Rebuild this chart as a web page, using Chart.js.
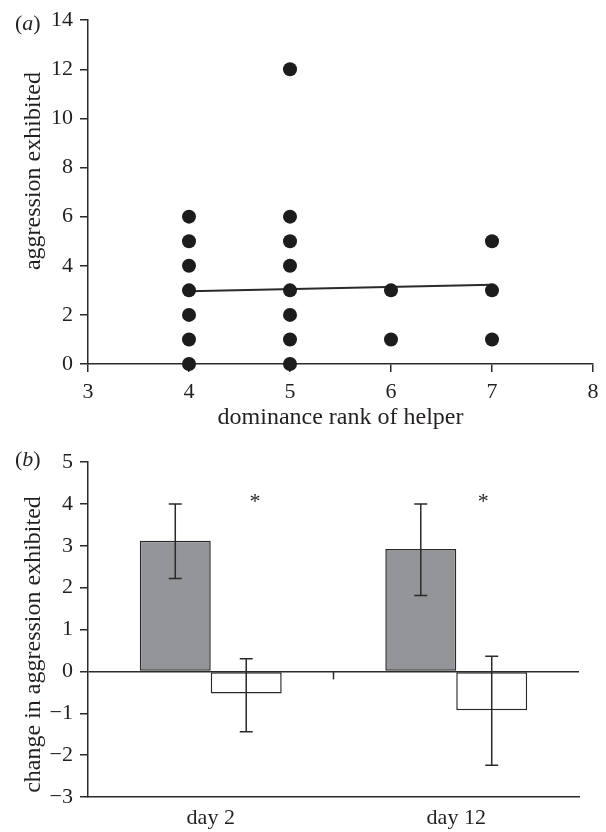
<!DOCTYPE html>
<html>
<head>
<meta charset="utf-8">
<script src="https://cdn.jsdelivr.net/npm/chart.js@4.4.1/dist/chart.umd.min.js"></script>
<style>
  body { margin: 0; background: #fff; }
  #wrap { position: relative; width: 606px; height: 832px; font-family: "Liberation Serif", "Times New Roman", serif; color: #231f20; }
  .panel-tag { position: absolute; left: 15px; font-size: 22px; line-height: 1; }
  #chartA { position: absolute; left: 0; top: 0; }
  #chartB { position: absolute; left: 0; top: 440px; }
</style>
</head>
<body>
<div id="wrap">
  <canvas id="chartA" width="606" height="440"></canvas>
  <canvas id="chartB" width="606" height="392"></canvas>
  <div class="panel-tag" style="top:12px">(<i>a</i>)</div>
  <div class="panel-tag" style="top:448px">(<i>b</i>)</div>
</div>
<script>
// (a) one dot per helper
const helperRank = [4, 4, 4, 4, 4, 4, 4, 5, 5, 5, 5, 5, 5, 5, 5, 6, 6, 7, 7, 7];
const aggression = [0, 1, 2, 3, 4, 5, 6, 0, 1, 2, 3, 4, 5, 6, 12, 1, 3, 1, 3, 5];
const fitRank = [4, 7];
const fitAggression = [2.96, 3.23];

// (b) means with error bar ends
const days = ["day 2", "day 12"];
const greyMean = [3.12, 2.92];
const greyHigh = [4.0, 4.0];
const greyLow = [2.22, 1.81];
const whiteMean = [-0.53, -0.93];
const whiteHigh = [0.3, 0.36];
const whiteLow = [-1.44, -2.24];

const INK = "#2a2a2a";
const TEXT = "#231f20";
const SERIF = "'Liberation Serif', 'Times New Roman', serif";
const tickFont = { family: SERIF, size: 22 };
const titleFont = { family: SERIF, size: 24 };

function byId(id) {
  return document.getElementById(id);
}

function minus(v) {
  return v < 0 ? "\u2212" + Math.abs(v) : String(v);
}

// error bars, the category tick on the zero line, and the asterisks
const errorBars = {
  id: "errorBars",
  afterDatasetsDraw(chart) {
    const { ctx, scales: { x, y } } = chart;
    ctx.save();
    ctx.strokeStyle = INK;
    ctx.lineWidth = 1.5;
    chart.data.datasets.forEach((ds, di) => {
      chart.getDatasetMeta(di).data.forEach((bar, i) => {
        const top = y.getPixelForValue(ds.errHigh[i]);
        const bot = y.getPixelForValue(ds.errLow[i]);
        ctx.beginPath();
        ctx.moveTo(bar.x, top);
        ctx.lineTo(bar.x, bot);
        ctx.moveTo(bar.x - 6.5, top);
        ctx.lineTo(bar.x + 6.5, top);
        ctx.moveTo(bar.x - 6.5, bot);
        ctx.lineTo(bar.x + 6.5, bot);
        ctx.stroke();
      });
    });

    const sep = x.getPixelForValue(0.5);
    const zero = y.getPixelForValue(0);
    ctx.beginPath();
    ctx.moveTo(sep, zero);
    ctx.lineTo(sep, zero + 8);
    ctx.stroke();

    ctx.fillStyle = TEXT;
    ctx.font = "22px " + SERIF;
    ctx.textAlign = "center";
    ctx.textBaseline = "middle";
    [0.18, 1.11].forEach((pos) => {
      ctx.fillText("*", x.getPixelForValue(pos), y.getPixelForValue(4.05));
    });
    ctx.restore();
  }
};

new Chart(byId("chartA"), {
  type: "scatter",
  data: {
    datasets: [
      {
        type: "line",
        data: fitRank.map((r, i) => ({ x: r, y: fitAggression[i] })),
        borderColor: INK,
        borderWidth: 2,
        pointRadius: 0,
        fill: false,
        order: 2
      },
      {
        data: helperRank.map((r, i) => ({ x: r, y: aggression[i] })),
        backgroundColor: "#1c1c1c",
        borderWidth: 0,
        pointRadius: 7,
        clip: false,
        order: 1
      }
    ]
  },
  options: {
    responsive: false,
    animation: false,
    layout: { padding: { top: 20, right: 13, left: 0, bottom: 0 } },
    plugins: { legend: { display: false }, tooltip: { enabled: false } },
    scales: {
      x: {
        type: "linear",
        min: 3,
        max: 8,
        ticks: { stepSize: 1, padding: 7, font: tickFont, color: TEXT },
        grid: { drawOnChartArea: false, tickLength: 8, tickColor: INK, lineWidth: 1.5 },
        border: { color: INK, width: 1.5 },
        title: { display: true, text: "dominance rank of helper", font: titleFont, color: TEXT, padding: { top: 0, bottom: 8 } },
        afterFit: (s) => { s.height = 76; }
      },
      y: {
        min: 0,
        max: 14,
        ticks: { stepSize: 2, padding: 7, font: tickFont, color: TEXT },
        grid: { drawOnChartArea: false, tickLength: 8, tickColor: INK, lineWidth: 1.5 },
        border: { color: INK, width: 1.5 },
        // leading spaces lift the title a little above the axis centre, as in the source
        title: { display: true, text: "       aggression exhibited", font: titleFont, color: TEXT, padding: { top: 19, bottom: 0 } },
        afterFit: (s) => { s.width = 88; }
      }
    }
  }
});

new Chart(byId("chartB"), {
  type: "bar",
  data: {
    labels: days,
    datasets: [
      {
        data: greyMean,
        errHigh: greyHigh,
        errLow: greyLow,
        backgroundColor: "#939598",
        borderColor: INK,
        borderWidth: 1.5,
        borderSkipped: false,
        barPercentage: 1,
        categoryPercentage: 0.578
      },
      {
        data: whiteMean,
        errHigh: whiteHigh,
        errLow: whiteLow,
        backgroundColor: "#ffffff",
        borderColor: INK,
        borderWidth: 1.5,
        borderSkipped: false,
        barPercentage: 1,
        categoryPercentage: 0.578
      }
    ]
  },
  options: {
    responsive: false,
    animation: false,
    layout: { padding: { top: 22, right: 27, left: 0, bottom: 0 } },
    plugins: { legend: { display: false }, tooltip: { enabled: false } },
    scales: {
      x: {
        ticks: { padding: 8, font: tickFont, color: TEXT },
        grid: { display: false, drawTicks: false },
        border: { display: true, color: INK, width: 1.5 },
        afterFit: (s) => { s.height = 35; }
      },
      y: {
        min: -3,
        max: 5,
        ticks: { stepSize: 1, padding: 7, font: tickFont, color: TEXT, callback: (v) => minus(v) },
        grid: {
          color: (c) => (c.tick && c.tick.value === 0 ? INK : "rgba(0,0,0,0)"),
          tickColor: INK,
          tickLength: 8,
          lineWidth: 1.5
        },
        border: { color: INK, width: 1.5 },
        // trailing spaces push the title slightly below the axis centre
        title: { display: true, text: "change in aggression exhibited     ", font: titleFont, color: TEXT, padding: { top: 19, bottom: 0 } },
        afterFit: (s) => { s.width = 88; }
      }
    }
  },
  plugins: [errorBars]
});
</script>
</body>
</html>
